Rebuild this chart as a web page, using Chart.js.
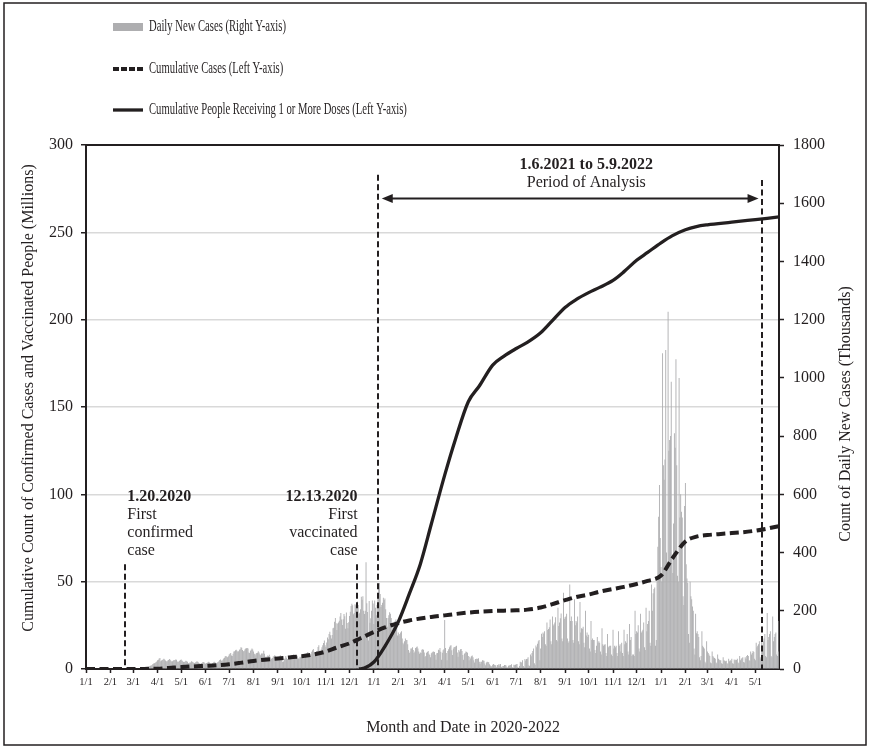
<!DOCTYPE html>
<html>
<head>
<meta charset="utf-8">
<script src="https://cdn.jsdelivr.net/npm/chart.js@4.4.0/dist/chart.umd.min.js"></script>
<style>
html, body { margin: 0; padding: 0; background: #fff; }
</style>
</head>
<body>
<canvas id="myChart" width="869" height="747"></canvas>
<script>
// x axis: one tick per month start
var tickDates = ['2020-01-01','2020-02-01','2020-03-01','2020-04-01','2020-05-01','2020-06-01',
    '2020-07-01','2020-08-01','2020-09-01','2020-10-01','2020-11-01','2020-12-01',
    '2021-01-01','2021-02-01','2021-03-01','2021-04-01','2021-05-01','2021-06-01',
    '2021-07-01','2021-08-01','2021-09-01','2021-10-01','2021-11-01','2021-12-01',
    '2022-01-01','2022-02-01','2022-03-01','2022-04-01','2022-05-01'];
var tickLabels = ['1/1','2/1','3/1','4/1','5/1','6/1','7/1','8/1','9/1','10/1','11/1','12/1',
    '1/1','2/1','3/1','4/1','5/1','6/1','7/1','8/1','9/1','10/1','11/1','12/1',
    '1/1','2/1','3/1','4/1','5/1'];

// daily new cases (thousands), one value per day starting 1/1
var dailyNew2020 = [
    0,0,0,0,0,0,0,0,0,0,0,0,0,0,0,0,0,0,0,0,0,0,0,0,0,0,0,0,0,0,0,
    0,0,0,0,0,0,0,0,0,0,0,0,0,0,0,0,0,0,0,0,0,0,0,0,0,0,0,0,0,
    0,0,0,0,0,0,0,0,0,0,0,0,1,1,1,2,3,4,5,6,8,10,11,12,14,17,19,20,21,24,26,
    30,32,36,38,27,29,31,33,35,33,29,27,26,29,31,34,32,28,26,27,29,31,30,33,32,26,24,26,28,31,
    33,29,27,24,24,26,28,27,25,21,20,22,22,27,25,24,21,21,22,24,27,25,22,20,18,18,21,22,24,23,20,
    18,21,20,23,25,22,19,17,18,21,22,25,23,20,19,22,24,27,31,33,29,27,32,36,39,44,45,42,40,44,
    50,52,55,46,45,52,60,61,64,66,63,59,61,66,68,75,73,65,61,62,67,70,71,72,70,57,55,63,66,70,67,
    60,52,47,52,55,56,61,57,51,47,53,52,54,63,52,42,40,43,46,45,49,42,38,34,38,43,44,47,44,38,33,
    41,39,42,47,41,31,24,26,35,35,45,39,34,34,38,38,43,47,42,35,50,38,37,41,47,44,36,35,42,40,
    44,47,50,38,39,44,50,55,58,50,45,45,51,59,64,69,56,47,58,61,62,76,82,63,57,67,75,82,89,98,82,
    76,91,108,102,120,128,116,105,117,140,142,162,175,157,134,156,160,166,180,192,170,151,171,189,181,138,194,158,140,161,
    182,197,216,224,219,188,192,222,219,223,232,220,189,193,205,248,238,250,200,189,200,367,226,196,98,234,159,174,200,235,225
];
var dailyNew2021 = [
    155,235,210,185,220,252,280,295,258,213,220,228,245,237,242,205,175,145,175,185,195,190,175,135,150,150,160,165,170,145,115,
    125,115,120,125,130,105,90,85,95,105,100,100,85,65,55,60,70,70,75,65,55,60,72,75,77,70,60,52,
    57,55,66,68,66,57,42,45,56,58,62,52,48,40,54,57,59,60,58,49,32,54,55,66,64,72,59,32,56,64,68,
    168,72,55,30,62,68,75,80,82,64,48,70,76,75,77,80,57,42,65,60,68,69,62,48,32,52,55,60,58,56,
    45,30,42,36,44,46,40,30,22,34,34,36,34,37,25,18,25,25,30,29,28,19,13,22,25,24,23,16,12,8,10,
    15,17,15,14,12,6,14,13,17,12,17,8,5,10,10,14,14,12,6,5,11,12,13,14,16,6,4,15,13,15,
    16,17,7,3,10,25,23,22,30,10,6,34,29,34,35,40,13,10,50,44,55,62,70,20,15,81,75,87,95,100,30,
    70,121,110,125,121,130,85,80,160,134,137,143,170,95,85,180,149,154,160,178,100,95,210,148,160,174,191,105,95,262,172,
    178,180,190,105,90,95,290,165,180,165,100,90,240,150,165,160,180,95,85,230,125,140,138,145,90,75,200,115,125,110,
    118,70,60,165,100,105,100,100,65,55,80,110,90,95,90,60,50,140,85,80,83,85,55,45,120,75,78,80,80,50,45,
    135,70,80,75,80,55,45,130,80,85,60,90,55,45,135,85,95,90,120,60,50,155,100,110,45,50,50,45,200,120,
    130,125,150,70,60,190,125,130,135,160,75,65,210,130,155,165,200,90,80,290,200,260,275,280,80,100,300,420,523,632,450
];
var dailyNew2022 = [
    350,300,1085,700,650,720,1096,400,350,1227,750,787,800,987,380,330,500,810,760,1064,700,320,300,1000,520,600,540,520,250,220,560,
    639,360,311,295,120,90,300,250,240,215,200,70,50,190,123,130,120,110,40,30,45,130,80,75,70,25,20,95,
    60,55,50,45,22,20,60,45,40,38,35,22,20,50,35,32,30,30,20,18,40,30,28,27,28,20,18,35,27,30,28,
    35,20,18,33,30,32,31,35,22,20,45,30,35,38,40,24,22,40,35,45,48,45,30,28,60,50,55,62,58,35,
    30,90,75,80,85,95,40,35,110,80,95,105,120,45,40,192,100,110,120,130,45,40,180,95,110,120,125,50,45,60,165
];

// cumulative cases (millions)
var cumCaseDates = ['2020-01-01','2020-03-01','2020-03-15','2020-04-01','2020-04-15','2020-05-01','2020-05-15',
    '2020-06-01','2020-06-15','2020-07-01','2020-07-15','2020-08-01','2020-08-15','2020-09-01','2020-09-15',
    '2020-10-01','2020-10-15','2020-11-01','2020-11-15','2020-12-01','2020-12-15',
    '2021-01-01','2021-01-15','2021-02-01','2021-02-15','2021-03-01','2021-03-15','2021-04-01','2021-04-15',
    '2021-05-01','2021-05-15','2021-06-01','2021-06-15','2021-07-01','2021-07-15','2021-08-01','2021-08-15',
    '2021-09-01','2021-09-15','2021-10-01','2021-10-15','2021-11-01','2021-11-15','2021-12-01','2021-12-15',
    '2022-01-01','2022-01-15','2022-02-01','2022-02-15','2022-03-01','2022-03-15','2022-04-01','2022-04-15',
    '2022-05-01','2022-05-15','2022-05-31'];
var cumCaseValues = [0, 0, 0.05, 0.2, 0.6, 1.1, 1.45,
    1.8, 2.1, 2.7, 3.5, 4.6, 5.3, 6.0, 6.6,
    7.3, 8.2, 10.0, 12.3, 14.7, 17.6,
    21.2, 23.8, 26.3, 27.8, 28.9, 29.8, 30.7, 31.5,
    32.3, 32.8, 33.2, 33.4, 33.6, 34.0, 35.2, 37.0,
    39.4, 41.2, 42.6, 44.3, 45.8, 47.0, 48.7, 50.4,
    53.5, 63.0, 73.0, 75.8, 76.7, 77.2, 77.8, 78.3,
    79.2, 80.3, 81.8];

// cumulative people with 1+ doses (millions)
var doseDates = ['2020-12-13','2020-12-20','2021-01-01','2021-01-15','2021-02-01','2021-02-15','2021-03-01',
    '2021-03-15','2021-04-01','2021-04-15','2021-05-01','2021-05-15','2021-06-01','2021-06-15','2021-07-01',
    '2021-07-15','2021-08-01','2021-08-15','2021-09-01','2021-09-15','2021-10-01','2021-10-15','2021-11-01',
    '2021-11-15','2021-12-01','2021-12-15','2022-01-01','2022-01-15','2022-02-01','2022-02-15','2022-03-01',
    '2022-04-01','2022-05-01','2022-05-31'];
var doseValues = [0, 0.5, 4, 13, 27, 43, 60,
    83, 111, 132, 153, 162, 174, 179, 183.5,
    187, 192.5, 199, 207, 211.5, 215.5, 218.5, 222.5,
    227.5, 234, 238.5, 244, 248, 251.5, 253.3, 254.3,
    255.8, 257.3, 258.8];

var INK = '#231f20';
var SERIF = '"Liberation Serif", "Times New Roman", serif';
var START = Date.UTC(2020, 0, 1);

function dayIndex(s) {
    var p = s.split('-');
    return Math.round((Date.UTC(+p[0], +p[1] - 1, +p[2]) - START) / 86400000);
}

var dailyNew = dailyNew2020.concat(dailyNew2021, dailyNew2022);
var barData = dailyNew.map(function (v, i) { return {x: i, y: v}; });
var caseData = cumCaseDates.map(function (d, i) { return {x: dayIndex(d), y: cumCaseValues[i]}; });
var doseData = doseDates.map(function (d, i) { return {x: dayIndex(d), y: doseValues[i]}; });

// notes drawn on the plot (left axis units for heights)
var markers = [
    {date: '2020-02-20', top: 60},
    {date: '2020-12-10', top: 60},
    {date: '2021-01-06', top: 283},
    {date: '2022-05-10', top: 280}
];

function drawText(ctx, text, x, y, font, align) {
    ctx.font = font;
    ctx.textAlign = align || 'left';
    ctx.textBaseline = 'middle';
    ctx.fillText(text, x, y);
}

var decor = {
    id: 'decor',
    afterDatasetsDraw: function (chart) {
        var ctx = chart.ctx, a = chart.chartArea, x = chart.scales.x, y = chart.scales.y;
        ctx.save();
        ctx.strokeStyle = INK;
        ctx.fillStyle = INK;

        // top edge of the plot box
        ctx.lineWidth = 2;
        ctx.beginPath();
        ctx.moveTo(a.left - 1, a.top);
        ctx.lineTo(a.right + 1, a.top);
        ctx.stroke();

        // vertical dashed markers
        ctx.lineWidth = 2;
        ctx.setLineDash([6, 3.5]);
        markers.forEach(function (m) {
            var px = Math.round(x.getPixelForValue(dayIndex(m.date)));
            ctx.beginPath();
            ctx.moveTo(px, y.getPixelForValue(m.top));
            ctx.lineTo(px, y.getPixelForValue(0));
            ctx.stroke();
        });
        ctx.setLineDash([]);

        // period of analysis arrow
        var ay = y.getPixelForValue(269.4);
        var x1 = x.getPixelForValue(dayIndex('2021-01-11'));
        var x2 = x.getPixelForValue(dayIndex('2022-05-05'));
        ctx.lineWidth = 2;
        ctx.beginPath();
        ctx.moveTo(x1 + 8, ay);
        ctx.lineTo(x2 - 8, ay);
        ctx.stroke();
        ctx.beginPath();
        ctx.moveTo(x1, ay); ctx.lineTo(x1 + 11, ay - 4.5); ctx.lineTo(x1 + 11, ay + 4.5); ctx.closePath();
        ctx.fill();
        ctx.beginPath();
        ctx.moveTo(x2, ay); ctx.lineTo(x2 - 11, ay - 4.5); ctx.lineTo(x2 - 11, ay + 4.5); ctx.closePath();
        ctx.fill();

        var bold = 'bold 16px ' + SERIF, normal = '16px ' + SERIF;
        var cx = x.getPixelForValue(dayIndex('2021-09-28'));
        drawText(ctx, '1.6.2021 to 5.9.2022', cx, y.getPixelForValue(288.5), bold, 'center');
        drawText(ctx, 'Period of Analysis', cx, y.getPixelForValue(278.2), normal, 'center');

        var lx = x.getPixelForValue(dayIndex('2020-02-20')) + 2;
        var ty = y.getPixelForValue(98.5);
        drawText(ctx, '1.20.2020', lx, ty, bold, 'left');
        drawText(ctx, 'First', lx, ty + 18, normal, 'left');
        drawText(ctx, 'confirmed', lx, ty + 36, normal, 'left');
        drawText(ctx, 'case', lx, ty + 54, normal, 'left');

        var rx = x.getPixelForValue(dayIndex('2020-12-10')) + 1;
        drawText(ctx, '12.13.2020', rx, ty, bold, 'right');
        drawText(ctx, 'First', rx, ty + 18, normal, 'right');
        drawText(ctx, 'vaccinated', rx, ty + 36, normal, 'right');
        drawText(ctx, 'case', rx, ty + 54, normal, 'right');
        ctx.restore();
    },
    afterDraw: function (chart) {
        var ctx = chart.ctx;
        var ds = chart.data.datasets;
        ctx.save();
        ctx.fillStyle = INK;
        ctx.strokeStyle = INK;

        // legend, stacked on the left, text condensed like the original
        var rows = [27, 69, 110];
        ds.forEach(function (d, i) {
            var ry = rows[i];
            if (d.type === 'bar') {
                ctx.fillStyle = d.backgroundColor;
                ctx.fillRect(113, ry - 4, 30, 8);
            } else {
                ctx.lineWidth = d.borderWidth;
                ctx.setLineDash(d.borderDash ? [6, 2] : []);
                ctx.beginPath();
                ctx.moveTo(113, ry);
                ctx.lineTo(143, ry);
                ctx.stroke();
                ctx.setLineDash([]);
            }
            ctx.fillStyle = INK;
            ctx.save();
            ctx.translate(149, ry);
            ctx.scale(0.625, 1);
            drawText(ctx, d.label, 0, 0, '17px ' + SERIF, 'left');
            ctx.restore();
        });

        // axis titles
        ctx.save();
        ctx.translate(29, 398);
        ctx.rotate(-Math.PI / 2);
        drawText(ctx, 'Cumulative Count of Confirmed Cases and Vaccinated People (Millions)', 0, 0, '16px ' + SERIF, 'center');
        ctx.restore();
        ctx.save();
        ctx.translate(846, 414);
        ctx.rotate(-Math.PI / 2);
        drawText(ctx, 'Count of Daily New Cases (Thousands)', 0, 0, '16px ' + SERIF, 'center');
        ctx.restore();
        drawText(ctx, 'Month and Date in 2020-2022', 463, 728, '16px ' + SERIF, 'center');

        // outer frame
        ctx.lineWidth = 1.5;
        ctx.strokeRect(4, 3, 862, 742);
        ctx.restore();
    }
};

var ctx = document.getElementById('myChart').getContext('2d');
var myChart = new Chart(ctx, {
    type: 'bar',
    data: {
        datasets: [
            {
                type: 'bar',
                label: 'Daily New Cases (Right Y-axis)',
                data: barData,
                yAxisID: 'y1',
                backgroundColor: '#aeaeb0',
                borderWidth: 0,
                barPercentage: 1.15,
                categoryPercentage: 1,
                order: 3
            },
            {
                type: 'line',
                label: 'Cumulative Cases (Left Y-axis)',
                data: caseData,
                yAxisID: 'y',
                borderColor: INK,
                borderWidth: 4,
                borderDash: [9, 4.5],
                pointRadius: 0,
                tension: 0.4,
                cubicInterpolationMode: 'monotone',
                fill: false,
                order: 1
            },
            {
                type: 'line',
                label: 'Cumulative People Receiving 1 or More Doses (Left Y-axis)',
                data: doseData,
                yAxisID: 'y',
                borderColor: INK,
                borderWidth: 3.3,
                pointRadius: 0,
                tension: 0.4,
                cubicInterpolationMode: 'monotone',
                fill: false,
                order: 0
            }
        ]
    },
    options: {
        responsive: false,
        animation: false,
        layout: { padding: { top: 145, left: 0, right: 0, bottom: 0 } },
        plugins: {
            legend: { display: false },
            tooltip: { enabled: false }
        },
        scales: {
            x: {
                type: 'linear',
                min: 0,
                max: 881,
                offset: false,
                afterBuildTicks: function (scale) {
                    scale.ticks = tickDates.map(function (d) { return {value: dayIndex(d)}; });
                },
                afterFit: function (scale) { scale.height = 78; },
                ticks: {
                    autoSkip: false,
                    maxRotation: 0,
                    padding: 3,
                    color: INK,
                    font: { family: SERIF, size: 10.5 },
                    callback: function (v, i) { return tickLabels[i]; }
                },
                grid: { offset: false, drawOnChartArea: false, tickLength: 4, tickColor: INK, tickWidth: 1.5 },
                border: { color: INK, width: 2 }
            },
            y: {
                position: 'left',
                min: 0,
                max: 300,
                afterFit: function (scale) { scale.width = 86; },
                ticks: {
                    stepSize: 50, padding: 8, color: INK, font: { family: SERIF, size: 16 },
                    callback: function (v) { return String(v); }
                },
                grid: {
                    color: function (c) { return (c.tick.value === 0 || c.tick.value === 300) ? 'rgba(0,0,0,0)' : '#d9d9d9'; },
                    lineWidth: 1.5,
                    tickLength: 5,
                    tickColor: INK,
                    tickWidth: 1.5
                },
                border: { color: INK, width: 2 }
            },
            y1: {
                position: 'right',
                min: 0,
                max: 1800,
                afterFit: function (scale) { scale.width = 90; },
                ticks: {
                    stepSize: 200, padding: 9, color: INK, font: { family: SERIF, size: 16 },
                    callback: function (v) { return String(v); }
                },
                grid: { drawOnChartArea: false, tickLength: 5, tickColor: INK, tickWidth: 1.5 },
                border: { color: INK, width: 2 }
            }
        }
    },
    plugins: [decor]
});
</script>
</body>
</html>
